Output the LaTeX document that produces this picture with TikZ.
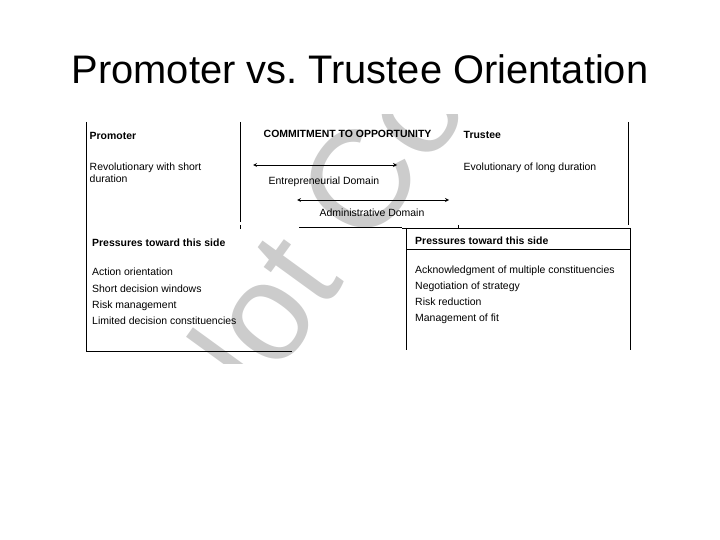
\documentclass[tikz,border=0pt]{standalone}
\usepackage{fontspec}
\setmainfont{Liberation Sans}
\usetikzlibrary{arrows,positioning,calc}

\begin{document}
\begin{tikzpicture}[
    x=1bp, y=-1bp,
    cell/.style={anchor=base west, inner sep=0pt, align=left, font=\fontsize{10.5}{12.3}\selectfont},
    headcell/.style={cell, font=\fontsize{10.5}{12.3}\selectfont\bfseries},
    items/.style={cell, font=\fontsize{10.5}{16.2}\selectfont},
    tablerule/.style={line width=0.8pt},
    domarrow/.style={<->, >=stealth, line width=0.8pt},
    wmark/.style={anchor=base west, inner sep=0pt, text=black!20, font=\fontsize{140}{140}\selectfont}
]
\useasboundingbox (0,0) rectangle (720,540);

% Title
\node[anchor=base, inner sep=0pt, font=\fontsize{40}{48}\selectfont] (title) at (360,84) {Promoter vs.\ Trustee Orientation};

% Watermark (clipped to the scanned table)
\begin{scope}
\clip (80,115) rectangle (636,363);
\node[wmark, rotate=54] (watermark) at (218,457) {Not Co};
\end{scope}

% Table rules
\draw[tablerule] (86,122) -- (86,351) -- (292,351);
\draw[tablerule] (240.5,122) -- (240.5,222);
\draw[tablerule] (240.5,225) -- (240.5,229);
\draw[tablerule] (628.5,122) -- (628.5,225);
\draw[tablerule] (458,225) -- (458,228);
\draw[tablerule] (299,227) -- (402,227);
\draw[tablerule] (402,228) -- (630,228);
\draw[tablerule] (406.5,228) -- (406.5,350);
\draw[tablerule] (630,228) -- (630,350);
\draw[tablerule] (406.5,249) -- (630,249);

% Top row (base of a multi-line cell = its last line)
\node[headcell] (promoter) at (89.5,139.5) {Promoter};
\node[cell] (promoterDesc) at (89.5,182.3) {Revolutionary with short\\duration};
\node[headcell] (commit) at (263.5,138) {COMMITMENT TO OPPORTUNITY};
\node[headcell] (trustee) at (463.5,138.5) {Trustee};
\node[cell] (trusteeDesc) at (463.5,171) {Evolutionary of long duration};

% Domains
\coordinate (entLeft) at (253,165);
\coordinate (entRight) at (397,165);
\coordinate (admLeft) at (297,200);
\coordinate (admRight) at (449,200);
\draw[domarrow] (entLeft) -- (entRight);
\node[cell] (entDomain) at (268.5,185) {Entrepreneurial Domain};
\draw[domarrow] (admLeft) -- (admRight);
\node[cell] (admDomain) at (319.5,216.5) {Administrative Domain};

% Pressures, promoter side
\node[headcell] (pressLeft) at (92,246.5) {Pressures toward this side};
\node[items] (itemsLeft) at (92,324.3) {Action orientation\\Short decision windows\\Risk management\\Limited decision constituencies};

% Pressures, trustee side
\node[headcell] (pressRight) at (415,245) {Pressures toward this side};
\node[items] (itemsRight) at (415,321.7) {Acknowledgment of multiple constituencies\\Negotiation of strategy\\Risk reduction\\Management of fit};

\end{tikzpicture}
\end{document}
